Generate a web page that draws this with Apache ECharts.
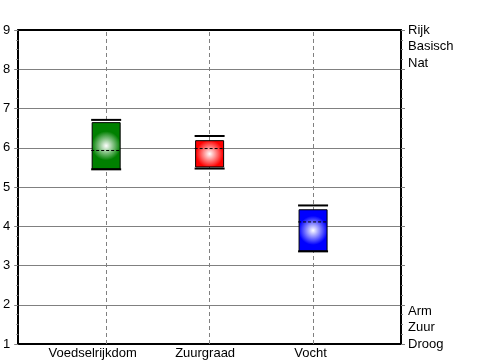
<!DOCTYPE html>
<html><head><meta charset="utf-8">
<script src="https://cdn.jsdelivr.net/npm/echarts@6/dist/echarts.min.js"></script>
<style>html,body{margin:0;padding:0;background:#fff}#c{width:500px;height:360px}</style>
</head><body><div id="c"></div>
<script>
const categories = ['Voedselrijkdom', 'Zuurgraad', 'Vocht'];
const positions = [1, 2, 3];
const whiskerHigh = [6.71, 6.30, 4.53];
const boxHigh = [6.64, 6.18, 4.42];
const median = [5.93, 5.98, 4.11];
const boxLow = [5.46, 5.51, 3.37];
const whiskerLow = [5.45, 5.47, 3.36];
const rightLabelValues = [9, 8.58, 8.16, 1.84, 1.42, 1];
const rightLabels = ['Rijk', 'Basisch', 'Nat', 'Arm', 'Zuur', 'Droog'];

const boxColors = ['#008000', '#ff0000', '#0000ff'];
const labelPad = [27, 9, 5];
const FONT = 'Liberation Sans';

const chart = echarts.init(document.getElementById('c'), null, {renderer: 'canvas'});

const seriesData = positions.map((p, i) => [p, whiskerHigh[i], boxHigh[i], median[i], boxLow[i], whiskerLow[i]]);

const tickStyle = {color: '#808080', width: 1};

chart.setOption({
  animation: false,
  grid: {left: 17, right: 99, top: 30, bottom: 14, containLabel: false},
  xAxis: [{
    type: 'value', min: 0.15, max: 3.85, position: 'bottom',
    axisLine: {show: true, onZero: false, lineStyle: {color: '#000', width: 2}},
    axisTick: {show: false},
    splitLine: {show: false},
    axisLabel: {
      customValues: positions, margin: 3, color: '#000', fontSize: 13, fontFamily: FONT,
      formatter: function (v) {
        const i = positions.findIndex(p => Math.abs(p - v) < 1e-6);
        return i < 0 ? '' : '{s' + i + '|' + categories[i] + '}';
      },
      rich: {
        s0: {padding: [0, labelPad[0], 0, 0], fontSize: 13, fontFamily: FONT, color: '#000'},
        s1: {padding: [0, labelPad[1], 0, 0], fontSize: 13, fontFamily: FONT, color: '#000'},
        s2: {padding: [0, labelPad[2], 0, 0], fontSize: 13, fontFamily: FONT, color: '#000'}
      }
    }
  }, {
    type: 'value', min: 0.15, max: 3.85, position: 'top',
    axisLine: {show: true, onZero: false, lineStyle: {color: '#000', width: 2}},
    axisTick: {show: false}, axisLabel: {show: false}, splitLine: {show: false}
  }],
  yAxis: [{
    type: 'value', min: 1, max: 9, interval: 1, position: 'left',
    axisLine: {show: true, onZero: false, lineStyle: {color: '#000', width: 2}},
    axisTick: {show: true, length: 4, lineStyle: tickStyle},
    minorTick: {show: true, splitNumber: 4, length: 2, lineStyle: tickStyle},
    axisLabel: {color: '#000', fontSize: 13, fontFamily: FONT, margin: 8},
    splitLine: {show: true, lineStyle: {color: '#808080', width: 1}}
  }, {
    type: 'value', min: 1, max: 9, interval: 1, position: 'right',
    axisLine: {show: true, onZero: false, lineStyle: {color: '#000', width: 2}},
    axisTick: {show: true, length: 4, lineStyle: tickStyle},
    minorTick: {show: true, splitNumber: 4, length: 2, lineStyle: tickStyle},
    splitLine: {show: false},
    axisLabel: {
      customValues: rightLabelValues, color: '#000', fontSize: 13, fontFamily: FONT, margin: 7,
      formatter: function (v) {
        const i = rightLabelValues.findIndex(p => Math.abs(p - v) < 1e-6);
        return i < 0 ? '' : rightLabels[i];
      }
    }
  }],
  series: [{
    type: 'line', data: [], z: 1, xAxisIndex: 0, yAxisIndex: 0,
    markLine: {
      silent: true, symbol: ['none', 'none'], label: {show: false}, z: 1,
      lineStyle: {color: '#808080', width: 1, type: [4, 3]},
      emphasis: {disabled: true},
      data: positions.map(p => ({xAxis: p}))
    }
  }, {
    type: 'custom', z: 3, xAxisIndex: 0, yAxisIndex: 0,
    data: seriesData,
    renderItem: function (params, api) {
      const x = api.value(0);
      const pWH = api.coord([x, api.value(1)]);
      const pBH = api.coord([x, api.value(2)]);
      const pM = api.coord([x, api.value(3)]);
      const pBL = api.coord([x, api.value(4)]);
      const pWL = api.coord([x, api.value(5)]);
      const cx = pWH[0];
      const bw = 28, ww = 30;
      const color = boxColors[params.dataIndex];
      return {
        type: 'group',
        children: [
          {type: 'rect', shape: {x: cx - bw / 2, y: pBH[1], width: bw, height: pBL[1] - pBH[1]},
            style: {fill: new echarts.graphic.RadialGradient(0.5, 0.5, 0.5, [
              {offset: 0, color: '#ffffff'}, {offset: 1, color: color}]), stroke: '#000', lineWidth: 1}},
          {type: 'line', shape: {x1: cx - ww / 2, y1: pWH[1], x2: cx + ww / 2, y2: pWH[1]},
            style: {stroke: '#000', lineWidth: 2}},
          {type: 'line', shape: {x1: cx - ww / 2, y1: pWL[1], x2: cx + ww / 2, y2: pWL[1]},
            style: {stroke: '#000', lineWidth: 2}},
          {type: 'line', shape: {x1: cx - ww / 2, y1: pM[1], x2: cx + ww / 2, y2: pM[1]},
            style: {stroke: '#000', lineWidth: 1, lineDash: [3, 2]}}
        ]
      };
    }
  }]
});
</script>
</body></html>
